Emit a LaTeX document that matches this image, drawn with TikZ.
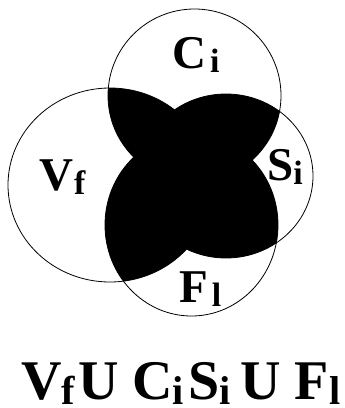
\documentclass[tikz,border=0pt]{standalone}
\usepackage{fontspec}
\setmainfont{Liberation Serif}
\newcommand\lsub[1]{\raisebox{-0.1em}{\scalebox{0.72}{#1}}}
\tikzset{
  ring/.style={draw=black, line width=0.8pt},
  setlbl/.style={anchor=base west, inner sep=0pt, font=\fontsize{47}{50}\selectfont\bfseries},
  sumlbl/.style={anchor=base west, inner sep=0pt, font=\fontsize{56}{60}\selectfont\bfseries},
}
% the four sets
\def\setC{(194.5,95.5) ellipse [x radius=86.5pt, y radius=86.5pt]}
\def\setV{(110,185) ellipse [x radius=102pt, y radius=97pt]}
\def\setS{(226,176) ellipse [x radius=87pt, y radius=82pt]}
\def\setF{(191.5,225) ellipse [x radius=86.5pt, y radius=91pt]}
\begin{document}
\begin{tikzpicture}[x=1pt,y=-1pt]
  \useasboundingbox (0,0) rectangle (345,408);
  % shaded part
  \begin{scope}
    \clip \setV;
    \fill \setC;
    \fill \setF;
  \end{scope}
  \begin{scope}
    \clip \setS;
    \fill \setC;
    \fill \setF;
  \end{scope}
  \draw[ring] \setC;
  \draw[ring] \setV;
  \draw[ring] \setS;
  \draw[ring] \setF;
  % labels
  \node[setlbl] (lblC) at (172,68) {C\kern4pt\lsub{i}};
  \node[setlbl] (lblV) at (39,190) {V\kern1pt\lsub{f}};
  \node[setlbl] (lblS) at (267,180) {S\lsub{i}};
  \node[setlbl] (lblF) at (179,302) {F\kern4pt\lsub{l}};
  \node[sumlbl] (expr) at (21,399) {V\lsub{f}\kern3pt U C\lsub{i}\kern4pt S\lsub{i}\kern10pt U F\lsub{l}};
\end{tikzpicture}
\end{document}
